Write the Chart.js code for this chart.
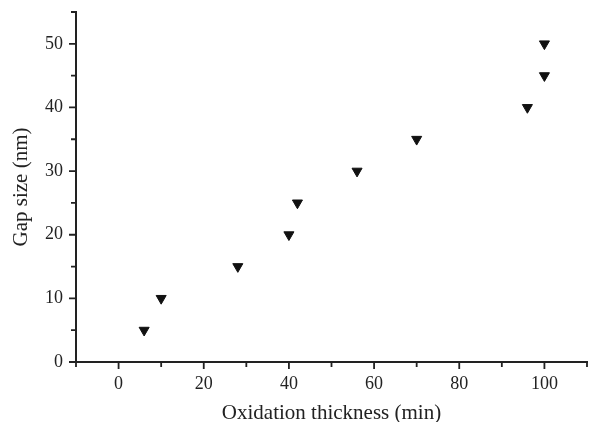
<!DOCTYPE html>
<html>
<head>
<meta charset="utf-8">
<script src="https://cdn.jsdelivr.net/npm/chart.js@4"></script>
<style>
  html, body { margin: 0; padding: 0; background: #fff; }
  #wrap { width: 595px; height: 422px; position: relative; }
</style>
</head>
<body>
<div id="wrap"><canvas id="gapChart"></canvas></div>
<script>
// Data
const oxidation = [6, 10, 28, 40, 42, 56, 70, 96, 100, 100];
const gapSize = [5, 10, 15, 20, 25, 30, 35, 40, 45, 50];

const xLabels = [0, 20, 40, 60, 80, 100];
const yLabels = [0, 10, 20, 30, 40, 50];

const FONT = "'Liberation Serif', 'DejaVu Serif', serif";
const INK = '#222';

// Draw outward ticks (major + minor) along both axes
const tickPlugin = {
  id: 'axisTicks',
  afterDraw(chart) {
    const c = chart.ctx;
    const xs = chart.scales.x, ys = chart.scales.y;
    c.save();
    c.strokeStyle = INK;
    c.lineWidth = 1.8;
    c.beginPath();
    xs.ticks.forEach(t => {
      const px = xs.getPixelForValue(t.value);
      const len = t.value % 20 === 0 ? 7 : 5;
      c.moveTo(px, ys.bottom);
      c.lineTo(px, ys.bottom + len);
    });
    ys.ticks.forEach(t => {
      const py = ys.getPixelForValue(t.value);
      const len = t.value % 10 === 0 ? 7 : 5;
      c.moveTo(xs.left, py);
      c.lineTo(xs.left - len, py);
    });
    c.stroke();
    c.restore();
  }
};

const ctx = document.getElementById('gapChart').getContext('2d');
new Chart(ctx, {
  type: 'scatter',
  data: {
    datasets: [{
      data: oxidation.map((x, i) => ({ x: x, y: gapSize[i] })),
      pointStyle: 'triangle',
      rotation: 180,
      pointRadius: 5.8,
      pointHoverRadius: 5.8,
      backgroundColor: '#111',
      borderColor: '#111',
      borderWidth: 1
    }]
  },
  options: {
    responsive: true,
    maintainAspectRatio: false,
    animation: false,
    layout: { padding: { top: 12, right: 8, bottom: 0, left: 0 } },
    plugins: { legend: { display: false }, tooltip: { enabled: false } },
    scales: {
      x: {
        type: 'linear',
        min: -10,
        max: 110,
        border: { display: true, color: INK, width: 2 },
        grid: { drawOnChartArea: false, drawTicks: false },
        afterFit: s => { s.height = 60; s.paddingLeft = 0; s.paddingRight = 0; },
        ticks: {
          stepSize: 10,
          padding: 11,
          color: INK,
          font: { family: FONT, size: 18 },
          maxRotation: 0,
          autoSkip: false,
          callback: v => xLabels.includes(v) ? String(v) : ''
        },
        title: {
          display: true,
          text: 'Oxidation thickness (min)',
          color: INK,
          font: { family: FONT, size: 21, lineHeight: 1 },
          padding: { top: 0, bottom: -2 }
        }
      },
      y: {
        type: 'linear',
        min: 0,
        max: 55,
        border: { display: true, color: INK, width: 2 },
        grid: { drawOnChartArea: false, drawTicks: false },
        afterFit: s => { s.width = 76; s.paddingTop = 0; s.paddingBottom = 0; },
        ticks: {
          stepSize: 5,
          padding: 13,
          color: INK,
          font: { family: FONT, size: 18 },
          autoSkip: false,
          callback: v => yLabels.includes(v) ? String(v) : ''
        },
        title: {
          display: true,
          text: 'Gap size (nm)',
          color: INK,
          font: { family: FONT, size: 21, lineHeight: 1 },
          padding: { top: 11, bottom: 0 }
        }
      }
    }
  },
  plugins: [tickPlugin]
});
</script>
</body>
</html>
